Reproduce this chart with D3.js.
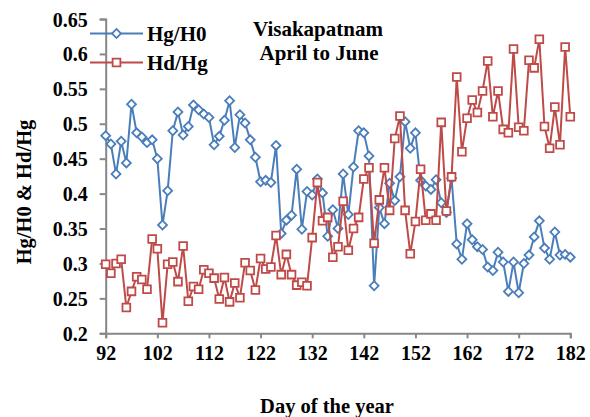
<!DOCTYPE html>
<html><head><meta charset="utf-8">
<script src="https://cdn.jsdelivr.net/npm/d3@7"></script>
<style>body{margin:0;background:#fff}svg{display:block}text{font-family:"Liberation Serif","Times New Roman",serif;font-weight:bold;fill:#000}</style>
</head><body><svg id="c" width="590" height="417"></svg>
<script>
const days = d3.range(92, 183);
const hgH0 = [0.483,0.471,0.428,0.475,0.444,0.528,0.487,0.481,0.473,0.477,
0.450,0.355,0.404,0.490,0.517,0.484,0.496,0.527,0.520,0.514,
0.509,0.470,0.482,0.505,0.533,0.466,0.513,0.501,0.477,0.452,
0.417,0.419,0.416,0.469,0.343,0.362,0.369,0.435,0.349,0.403,
0.398,0.421,0.401,0.339,0.377,0.350,0.428,0.370,0.438,0.490,
0.487,0.454,0.268,0.380,0.357,0.415,0.390,0.424,0.503,0.465,
0.487,0.419,0.411,0.406,0.420,0.387,0.373,0.422,0.328,0.306,
0.357,0.334,0.324,0.320,0.295,0.290,0.316,0.302,0.260,0.302,
0.258,0.300,0.312,0.338,0.361,0.322,0.306,0.345,0.312,0.313,0.309];
const hdHg = [0.299,0.286,0.300,0.306,0.237,0.260,0.281,0.277,0.263,0.335,
0.321,0.215,0.299,0.302,0.274,0.325,0.246,0.267,0.263,0.291,
0.286,0.279,0.249,0.280,0.245,0.272,0.251,0.301,0.290,0.262,
0.307,0.292,0.295,0.340,0.284,0.313,0.284,0.269,0.273,0.268,
0.337,0.416,0.361,0.366,0.309,0.324,0.389,0.319,0.350,0.366,
0.421,0.437,0.329,0.391,0.437,0.376,0.479,0.511,0.376,0.314,
0.360,0.435,0.362,0.371,0.362,0.502,0.375,0.424,0.567,0.460,
0.508,0.534,0.516,0.547,0.590,0.510,0.547,0.492,0.487,0.607,
0.495,0.490,0.591,0.580,0.621,0.496,0.465,0.524,0.470,0.610,0.510];
const xTicks = [92,102,112,122,132,142,152,162,172,182];
const yTicks = [0.2,0.25,0.3,0.35,0.4,0.45,0.5,0.55,0.6,0.65];
const seriesNames = ["Hg/H0","Hd/Hg"];
const titleLines = ["Visakapatnam","April to June"];

const blue = "#4a7ebb", red = "#be4b48", axisCol = "#878787";
const svg = d3.select("#c");
const x = d3.scaleLinear().domain([92,182]).range([105.7,570.3]);
const y = d3.scaleLinear().domain([0.2,0.65]).range([333.3,19]);

// axes
const xa = svg.append("g").attr("transform","translate(0,333.3)")
  .call(d3.axisBottom(x).tickValues(xTicks).tickSize(5).tickPadding(8).tickFormat(d3.format("d")));
const ya = svg.append("g").attr("transform","translate(105.7,0)")
  .call(d3.axisLeft(y).tickValues(yTicks).tickSize(6).tickPadding(12).tickFormat(d3.format(".2~f")));
[xa,ya].forEach(a=>{
  a.select(".domain").attr("stroke",axisCol).attr("stroke-width",2);
  a.selectAll(".tick line").attr("stroke",axisCol).attr("stroke-width",2);
  a.selectAll("text").attr("font-size",20).attr("font-family",'"Liberation Serif",serif').attr("font-weight","bold").attr("fill","#000");
});
ya.selectAll("text").attr("dy","0.35em");

const diamond = d3.symbol().type(d3.symbolSquare).size(40)();
function drawSeries(vals, color, marker) {
  const pts = days.map((d,i)=>[x(d), y(vals[i])]);
  svg.append("path").attr("d", d3.line()(pts)).attr("fill","none")
    .attr("stroke",color).attr("stroke-width",2).attr("stroke-linejoin","round");
  svg.append("g").selectAll("path").data(pts).join("path")
    .attr("d", marker==="d" ? diamond : d3.symbol().type(d3.symbolSquare).size(60)())
    .attr("transform", p=>`translate(${p[0]},${p[1]})` + (marker==="d" ? " rotate(45)" : ""))
    .attr("fill","#fff").attr("stroke",color).attr("stroke-width",1.8);
}
drawSeries(hgH0, blue, "d");
drawSeries(hdHg, red, "s");

// legend
const lg = [{n:seriesNames[0],c:blue,m:"d",y:33.5},{n:seriesNames[1],c:red,m:"s",y:62.5}];
lg.forEach(l=>{
  svg.append("line").attr("x1",90).attr("x2",143).attr("y1",l.y).attr("y2",l.y).attr("stroke",l.c).attr("stroke-width",2);
  svg.append("path").attr("d", l.m==="d"?diamond:d3.symbol().type(d3.symbolSquare).size(60)())
    .attr("transform",`translate(116.5,${l.y})`+(l.m==="d"?" rotate(45)":""))
    .attr("fill","#fff").attr("stroke",l.c).attr("stroke-width",1.8);
  svg.append("text").attr("x",147).attr("y",l.y+7.5).attr("font-size",21).text(l.n);
});

// title
svg.append("text").attr("x",318).attr("y",35.5).attr("text-anchor","middle").attr("font-size",21).text(titleLines[0]);
svg.append("text").attr("x",319).attr("y",60).attr("text-anchor","middle").attr("font-size",21).text(titleLines[1]);

// axis titles
svg.append("text").attr("x",327).attr("y",413).attr("text-anchor","middle").attr("font-size",20.5).text("Day of the year");
svg.append("text").attr("transform","translate(31,192) rotate(-90)").attr("text-anchor","middle").attr("font-size",20.5).text("Hg/H0 & Hd/Hg");
</script></body></html>
